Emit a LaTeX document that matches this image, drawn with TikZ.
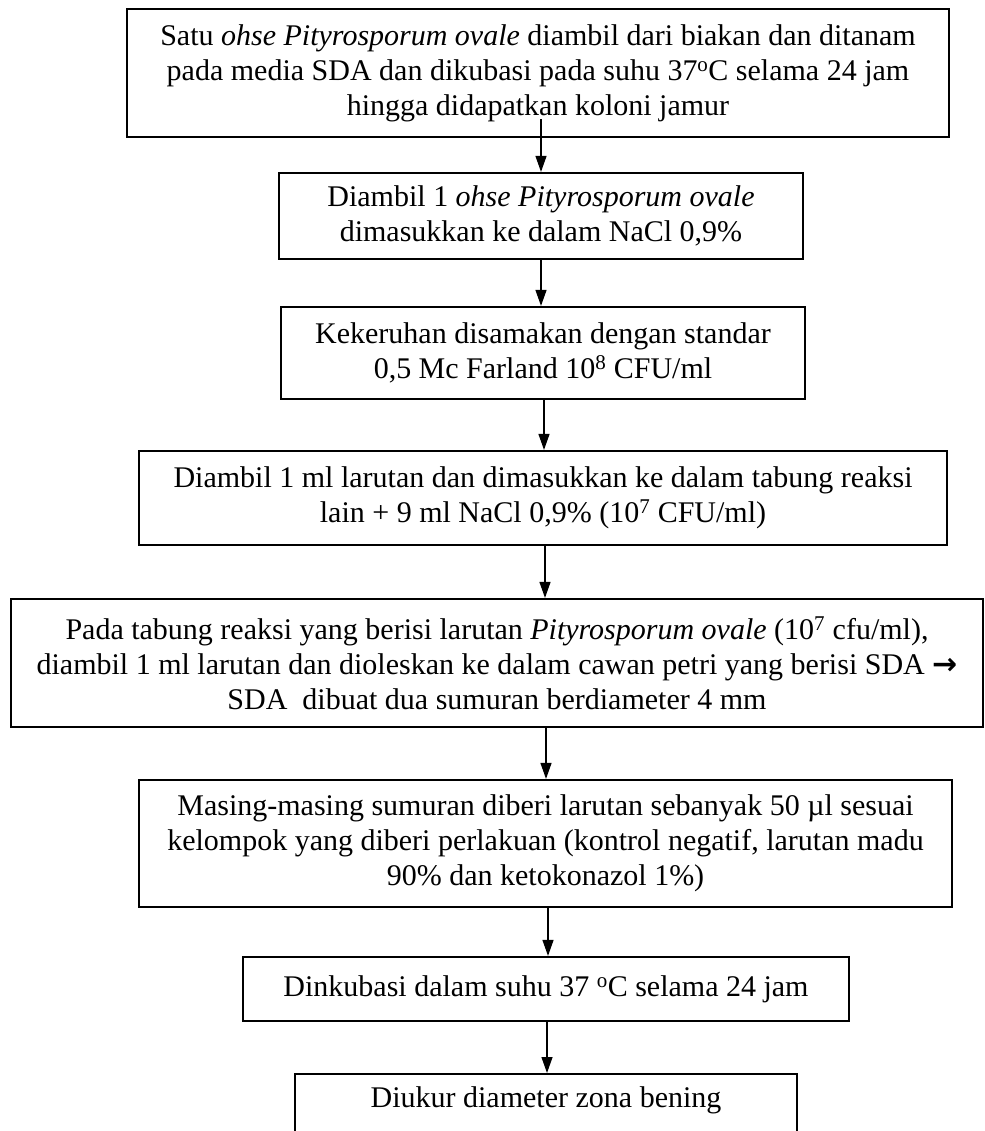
\documentclass[tikz,border=0pt]{standalone}
\usepackage{fontspec}
\setmainfont{Liberation Serif}
\newfontfamily\dvsans{DejaVu Sans}
\usetikzlibrary{arrows.meta,calc}
\begin{document}
\begin{tikzpicture}[x=1pt,y=-1pt,
  box/.style={draw,line width=2.2pt,rectangle,inner sep=0pt,align=center,
    font=\fontsize{30}{35}\selectfont},
  arr/.style={line width=1.2pt,-{Triangle[width=11pt,length=16pt]}}]
\useasboundingbox (0,0) rectangle (984,1131);
\clip (0,0) rectangle (984,1131);
\node[box,minimum width=822pt,minimum height=128pt] (b1) at (538,73)
  {Satu \textit{ohse Pityrosporum ovale} diambil dari biakan dan ditanam\\
   pada media SDA dan dikubasi pada suhu 37\textsuperscript{o}C selama 24 jam\\
   hingga didapatkan koloni jamur};
\node[box,minimum width=524pt,minimum height=86pt] (b2) at (541,216)
  {Diambil 1 \textit{ohse Pityrosporum ovale}\\ dimasukkan ke dalam NaCl 0,9\%};
\node[box,minimum width=524pt,minimum height=92pt] (b3) at (543,353)
  {Kekeruhan disamakan dengan standar\\ 0,5 Mc Farland 10\textsuperscript{8} CFU/ml};
\node[box,minimum width=808pt,minimum height=94pt] (b4) at (543,498)
  {Diambil 1 ml larutan dan dimasukkan ke dalam tabung reaksi\\
   lain + 9 ml NaCl 0,9\% (10\textsuperscript{7} CFU/ml)};
\node[box,minimum width=972pt,minimum height=128pt] (b5) at (497,663)
  {Pada tabung reaksi yang berisi larutan \textit{Pityrosporum ovale} (10\textsuperscript{7} cfu/ml),\\
   diambil 1 ml larutan dan dioleskan ke dalam cawan petri yang berisi SDA {\dvsans\bfseries →}\\
   SDA\ \ dibuat dua sumuran berdiameter 4 mm};
\node[box,minimum width=813pt,minimum height=127pt] (b6) at (545.5,843.5)
  {Masing-masing sumuran diberi larutan sebanyak 50 µl sesuai\\
   kelompok yang diberi perlakuan (kontrol negatif, larutan madu\\
   90\% dan ketokonazol 1\%)};
\node[box,minimum width=606pt,minimum height=64pt] (b7) at (546,989)
  {Dinkubasi dalam suhu 37 \textsuperscript{o}C selama 24 jam};
\node[box,minimum width=502pt,minimum height=80pt,anchor=north] (b8) at (546,1073) {};
\node[font=\fontsize{30}{35}\selectfont] (t8) at (546,1100) {Diukur diameter zona bening};
\path (541,0) coordinate (x1) (541,0) coordinate (x2) (544,0) coordinate (x3)
      (545,0) coordinate (x4) (546,0) coordinate (x5) (548,0) coordinate (x6)
      (547,0) coordinate (x7);
\draw[arr] ($(b1.south -| x1)+(0,-19)$) -- (b2.north -| x1);
\draw[arr] (b2.south -| x2) -- (b3.north -| x2);
\draw[arr] (b3.south -| x3) -- (b4.north -| x3);
\draw[arr] (b4.south -| x4) -- (b5.north -| x4);
\draw[arr] (b5.south -| x5) -- (b6.north -| x5);
\draw[arr] (b6.south -| x6) -- (b7.north -| x6);
\draw[arr] (b7.south -| x7) -- (b8.north -| x7);
\end{tikzpicture}
\end{document}
